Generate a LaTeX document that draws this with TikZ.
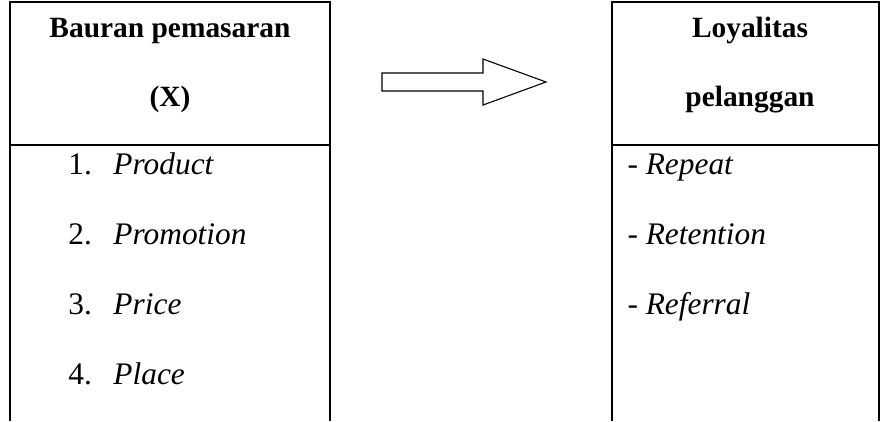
\documentclass[tikz,border=0pt]{standalone}
\usepackage{fontspec}
\setmainfont{Liberation Serif}
\begin{document}
\begin{tikzpicture}[x=0.408pt,y=-0.408pt,
  frame/.style={line width=0.8pt,black},
  headtext/.style={font=\fontsize{12}{14}\selectfont\bfseries,inner sep=0pt,anchor=base},
  itemtext/.style={font=\fontsize{12.8}{15}\selectfont,inner sep=0pt,anchor=base west},
  blockarrow/.style={line width=0.45pt,black,fill=white,line join=miter}]
\useasboundingbox (0,0) rectangle (883,421);

% left table: marketing mix
\draw[frame] (10,421) -- (10,2) -- (330,2) -- (330,421);
\draw[frame] (10,145) -- (330,145);
\node[headtext] (lh1) at (170,37) {Bauran pemasaran};
\node[headtext] (lh2) at (170,106) {(X)};
\node[itemtext] (n1) at (68,174) {1.};
\node[itemtext] (l1) at (113,174) {\itshape Product};
\node[itemtext] (n2) at (68,244) {2.};
\node[itemtext] (l2) at (113,244) {\itshape Promotion};
\node[itemtext] (n3) at (68,314) {3.};
\node[itemtext] (l3) at (113,314) {\itshape Price};
\node[itemtext] (n4) at (68,384) {4.};
\node[itemtext] (l4) at (113,384) {\itshape Place};

% right table: customer loyalty
\draw[frame] (612,421) -- (612,2) -- (879,2) -- (879,421);
\draw[frame] (612,145) -- (879,145);
\node[headtext] (rh1) at (750,37) {Loyalitas};
\node[headtext] (rh2) at (750,106) {pelanggan};
\node[itemtext] (r1) at (627,174) {- \textit{Repeat}};
\node[itemtext] (r2) at (627,244) {- \textit{Retention}};
\node[itemtext] (r3) at (627,314) {- \textit{Referral}};

% block arrow between the tables
\draw[blockarrow] (382,73) -- (483,73) -- (483,59) -- (546,82)
  -- (483,105) -- (483,91) -- (382,91) -- cycle;
\end{tikzpicture}
\end{document}
